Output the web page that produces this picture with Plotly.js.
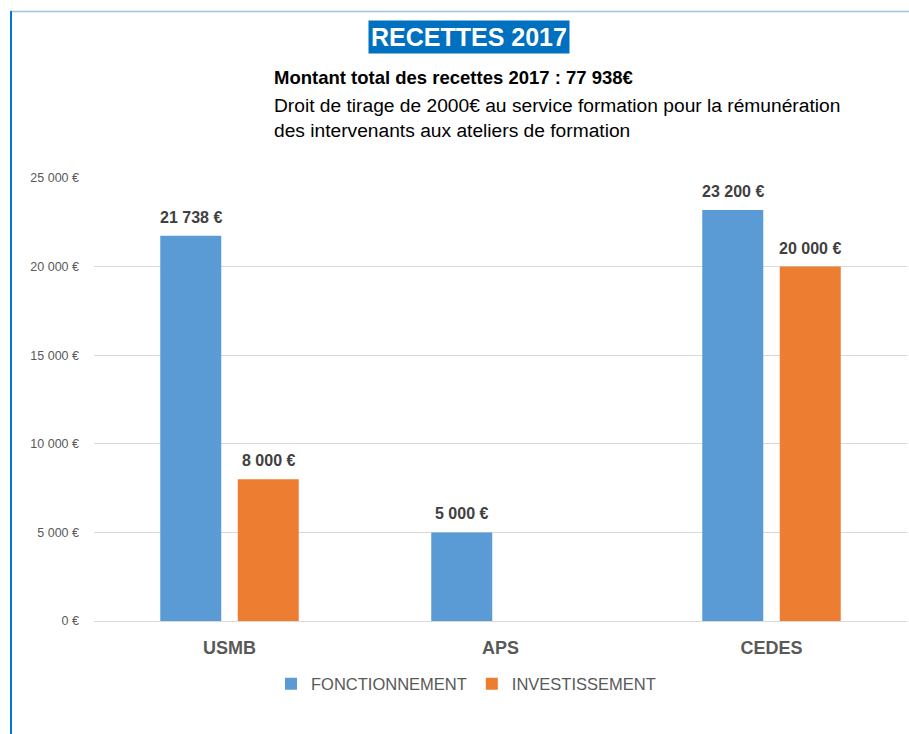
<!DOCTYPE html>
<html>
<head>
<meta charset="utf-8">
<script src="https://cdn.plot.ly/plotly-3.0.1.min.js"></script>
<style>html,body{margin:0;padding:0;background:#fff;}#chart{width:909px;height:734px;}</style>
</head>
<body>
<div id="chart"></div>
<script>
const categories = ["USMB", "APS", "CEDES"];
const fonctionnement = [21738, 5000, 23200];
const investissement = [8000, null, 20000];
const seriesNames = ["FONCTIONNEMENT", "INVESTISSEMENT"];
const yTicks = [0, 5000, 10000, 15000, 20000, 25000];
const yTickLabels = ["0 €", "5 000 €", "10 000 €", "15 000 €", "20 000 €", "25 000 €"];
const titleText = "RECETTES 2017";
const subtitle1 = "Montant total des recettes 2017 : 77 938€";
const subtitle2 = "Droit de tirage de 2000€ au service formation pour la rémunération<br>des intervenants aux ateliers de formation";

const sans = "'Liberation Sans', Arial, sans-serif";
const fmt = v => String(v).replace(/\B(?=(\d{3})+(?!\d))/g, " ") + " €";

const mkTrace = (name, vals, color) => ({
  type: "bar",
  name: name,
  x: categories,
  y: vals,
  marker: {color: color},
  hoverinfo: "skip"
});

const data = [
  mkTrace(seriesNames[0], fonctionnement, "#5B9BD5"),
  mkTrace(seriesNames[1], investissement, "#ED7D31")
];

const W = 909, H = 734, L = 94, R = 2, T = 178, B = 113;
const pw = W - L - R, ph = H - T - B;
const px = x => (x - L) / pw;
const py = y => (H - B - y) / ph;

const bargap = 0.428;
const slot = (1 - bargap) / 2; // in category units
const labelAnns = [];
[fonctionnement, investissement].forEach((vals, s) => {
  vals.forEach((v, i) => {
    if (v === null) return;
    labelAnns.push({
      xref: "x", yref: "y", x: i + (s - 0.5) * slot, y: v,
      xanchor: "center", yanchor: "bottom", yshift: 8,
      text: "<b>" + fmt(v) + "</b>", showarrow: false,
      font: {family: sans, size: 16, color: "#404040"}
    });
  });
});

const layout = {
  width: W, height: H,
  margin: {l: L, r: R, t: T, b: B},
  paper_bgcolor: "#ffffff",
  plot_bgcolor: "#ffffff",
  barmode: "group",
  bargap: bargap,
  bargroupgap: 0.213,
  showlegend: true,
  legend: {
    orientation: "h",
    x: px(466), xanchor: "center",
    y: py(684), yanchor: "middle",
    font: {family: sans, size: 16.5, color: "#595959"},
    itemwidth: 30,
    traceorder: "normal"
  },
  xaxis: {
    type: "category",
    range: [-0.5, 2.5],
    tickfont: {family: sans, size: 18, color: "#595959", weight: "bold"},
    ticks: "",
    ticklabelstandoff: 10,
    showline: true, linecolor: "#D9D9D9", linewidth: 1,
    showgrid: false, zeroline: false, fixedrange: true
  },
  yaxis: {
    range: [0, 25000],
    tickmode: "array",
    tickvals: yTicks,
    ticktext: yTickLabels,
    tickfont: {family: sans, size: 12.5, color: "#595959"},
    ticklabelstandoff: 14,
    showgrid: true, gridcolor: "#D9D9D9", gridwidth: 1,
    zeroline: false, showline: false, ticks: "", fixedrange: true
  },
  shapes: [
    {type: "line", xref: "paper", yref: "paper", x0: px(11), x1: px(909), y0: py(11.5), y1: py(11.5),
     line: {color: "#9DC3E6", width: 1.5}},
    {type: "line", xref: "paper", yref: "paper", x0: px(11), x1: px(11), y0: py(11), y1: py(734),
     line: {color: "#0078D7", width: 2}}
  ],
  annotations: [
    {xref: "paper", yref: "paper", x: px(469), y: py(37), xanchor: "center", yanchor: "middle",
     text: "<b>" + titleText + "</b>", showarrow: false, bgcolor: "#0070C0", borderpad: 2,
     font: {family: sans, size: 25, color: "#ffffff"}},
    {xref: "paper", yref: "paper", x: px(272), y: py(77), xanchor: "left", yanchor: "middle",
     text: "<b>" + subtitle1 + "</b>", showarrow: false, align: "left",
     font: {family: sans, size: 18.5, color: "#000000"}},
    {xref: "paper", yref: "paper", x: px(272), y: py(118), xanchor: "left", yanchor: "middle",
     text: subtitle2, showarrow: false, align: "left",
     font: {family: sans, size: 19.2, color: "#000000"}}
  ].concat(labelAnns)
};

Plotly.newPlot("chart", data, layout, {displayModeBar: false, staticPlot: true});
</script>
</body>
</html>
